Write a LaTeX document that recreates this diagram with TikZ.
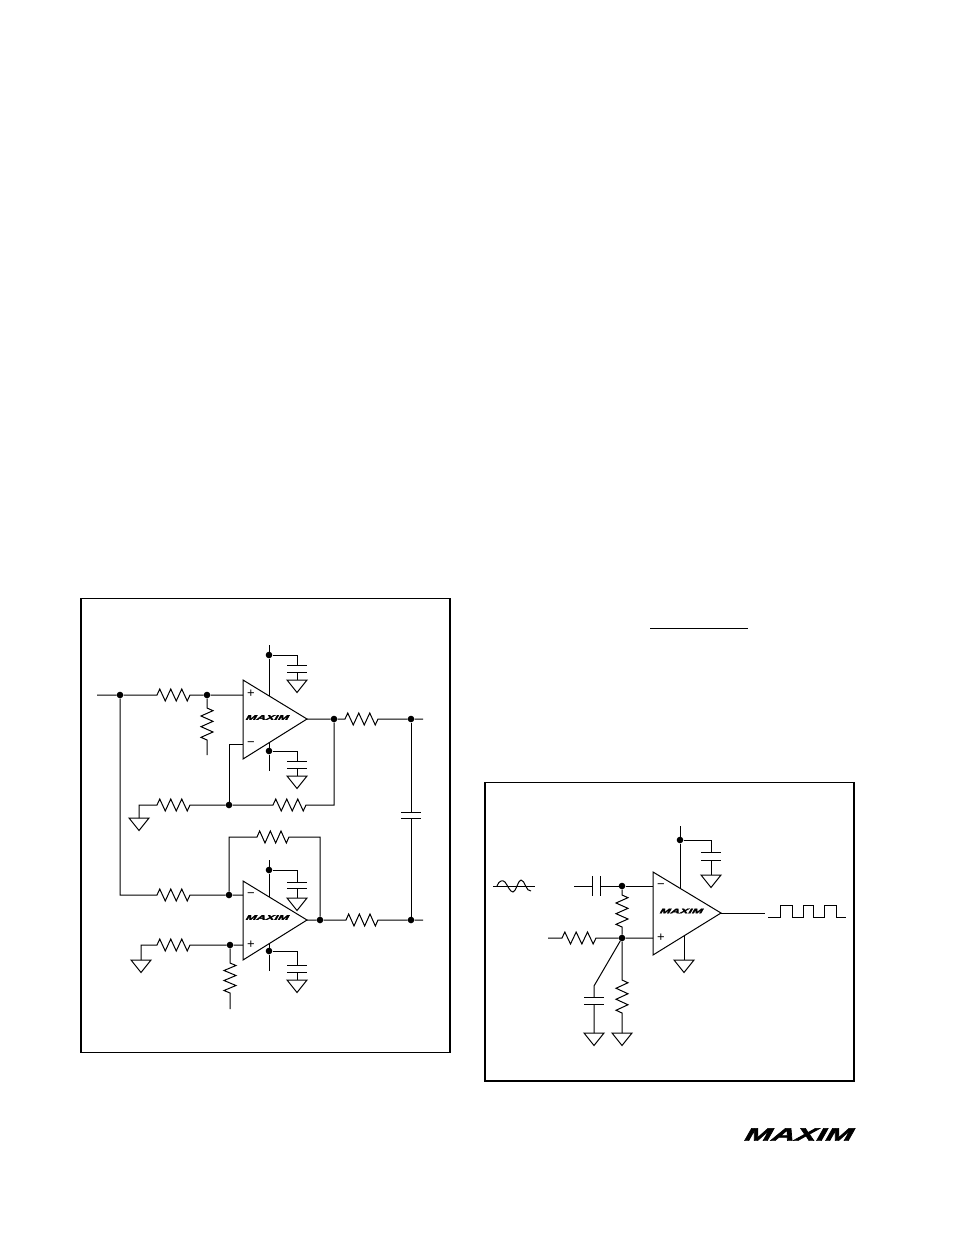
\documentclass[tikz,border=0pt]{standalone}
\usepackage{graphicx}
\usepackage{fontspec}
\setmainfont{Liberation Sans}
\newfontfamily\logofont[BoldFont=*,ItalicFont=*,FakeBold=2.2,FakeSlant=0.12]{Liberation Sans Bold Italic}
\usetikzlibrary{calc}
\tikzset{
  x=1pt,y=-1pt,
  wire/.style={line width=1pt,line join=miter},
  frame/.style={line width=1.8pt},
  dot/.style={circle,fill=black,draw=none,inner sep=0pt,minimum size=6.6pt},
  sign/.style={inner sep=0pt,font=\fontsize{13}{13}\selectfont},
  logosmall/.style={inner sep=0pt,font=\fontsize{7}{7}\logofont},
  logobig/.style={inner sep=0pt,font=\fontsize{18}{18}\logofont},
  res/.style={to path={
    -- ($(\tikztostart)!0.0833!(\tikztotarget)!6pt!90:(\tikztotarget)$)
    -- ($(\tikztostart)!0.25!(\tikztotarget)!6pt!-90:(\tikztotarget)$)
    -- ($(\tikztostart)!0.4167!(\tikztotarget)!6pt!90:(\tikztotarget)$)
    -- ($(\tikztostart)!0.5833!(\tikztotarget)!6pt!-90:(\tikztotarget)$)
    -- ($(\tikztostart)!0.75!(\tikztotarget)!6pt!90:(\tikztotarget)$)
    -- ($(\tikztostart)!0.9167!(\tikztotarget)!6pt!-90:(\tikztotarget)$)
    -- (\tikztotarget)}},
  gnd/.pic={\draw[wire] (-10,0) -- (10,0) -- (0,12.5) -- cycle;},
  hplate/.pic={\draw[wire] (-10,0) -- (10,0);},
  vplate/.pic={\draw[wire] (0,-10) -- (0,10);},
}
\begin{document}
\begin{tikzpicture}
\useasboundingbox (0,0) rectangle (954,1235);
\fill[white] (0,0) rectangle (954,1235);

% frames and rule
\draw[frame] (81,598.5) rectangle (450,1052.5);
\draw[frame] (485,782.5) rectangle (854,1081);
\coordinate (ruleL) at (650,628);
\coordinate (ruleR) at (748,628);
\draw[line width=1pt] (ruleL) -- (ruleR);

% ---------- left circuit, upper amplifier ----------
\coordinate (A1a) at (243,680);
\coordinate (A1b) at (243,759);
\coordinate (A1c) at (307,719);
\draw[wire] (A1a) -- (A1c) -- (A1b) -- cycle;
\node[sign] (A1plus) at (251,694) {+};
\node[sign] (A1minus) at (251,744) {−};
\node[logosmall] (A1logo) at (267,717.5) {\scalebox{1.84}[1]{MAXIM}};

\coordinate (inL) at (97,695);
\node[dot] (j1) at (120,695) {};
\coordinate (r1a) at (157,695);
\coordinate (r1b) at (190,695);
\node[dot] (j2) at (207,695) {};
\coordinate (A1p) at (243,695);
\draw[wire] (inL) -- (j1) -- (r1a) to[res] (r1b) -- (j2) -- (A1p);
\coordinate (r2a) at (207,708);
\coordinate (r2b) at (207,740);
\coordinate (r2e) at (207,755);
\draw[wire] (j2) -- (r2a) to[res] (r2b) -- (r2e);

% supply upper
\coordinate (s1t) at (269,645);
\node[dot] (j3) at (269,655) {};
\coordinate (s1e) at (269,695.8);
\draw[wire] (s1t) -- (j3) -- (s1e);
\coordinate (c1c) at (297,655);
\coordinate (c1a) at (297,665);
\coordinate (c1b) at (297,672);
\coordinate (g1) at (297,680);
\draw[wire] (j3) -- (c1c) -- (c1a) (c1b) -- (g1);
\pic at (c1a) {hplate}; \pic at (c1b) {hplate}; \pic at (g1) {gnd};
% supply lower
\coordinate (s2t) at (269,742.7);
\node[dot] (j4) at (269,751) {};
\coordinate (s2e) at (269,771);
\draw[wire] (s2t) -- (j4) -- (s2e);
\coordinate (c2c) at (297,751);
\coordinate (c2a) at (297,761);
\coordinate (c2b) at (297,768);
\coordinate (g2) at (297,776);
\draw[wire] (j4) -- (c2c) -- (c2a) (c2b) -- (g2);
\pic at (c2a) {hplate}; \pic at (c2b) {hplate}; \pic at (g2) {gnd};

% output upper
\node[dot] (j5) at (334,719) {};
\coordinate (r3a) at (345,719);
\coordinate (r3b) at (378,719);
\node[dot] (j6) at (411,719) {};
\coordinate (outU) at (423,719);
\draw[wire] (A1c) -- (j5) -- (r3a) to[res] (r3b) -- (j6) -- (outU);

% feedback upper
\coordinate (A1m) at (243,744);
\coordinate (fbc) at (229,744);
\node[dot] (j7) at (229,805) {};
\draw[wire] (A1m) -- (fbc) -- (j7);
\coordinate (g3c) at (139,805);
\coordinate (g3) at (139,818);
\coordinate (r4a) at (157,805);
\coordinate (r4b) at (190,805);
\coordinate (r5a) at (273,805);
\coordinate (r5b) at (306,805);
\coordinate (fbr) at (334,805);
\draw[wire] (g3) -- (g3c) -- (r4a) to[res] (r4b) -- (j7) -- (r5a) to[res] (r5b) -- (fbr) -- (j5);
\pic at (g3) {gnd};

% bridge capacitor
\coordinate (c3a) at (411,812);
\coordinate (c3b) at (411,818);
\node[dot] (j8) at (411,920) {};
\draw[wire] (j6) -- (c3a) (c3b) -- (j8);
\pic at (c3a) {hplate}; \pic at (c3b) {hplate};

% ---------- left circuit, lower amplifier ----------
\coordinate (A2a) at (243,881);
\coordinate (A2b) at (243,960);
\coordinate (A2c) at (307,920);
\draw[wire] (A2a) -- (A2c) -- (A2b) -- cycle;
\node[sign] (A2minus) at (251,895) {−};
\node[sign] (A2plus) at (251,945) {+};
\node[logosmall] (A2logo) at (267,917.5) {\scalebox{1.84}[1]{MAXIM}};

\coordinate (inC) at (120,895);
\coordinate (r6a) at (157,895);
\coordinate (r6b) at (190,895);
\node[dot] (j9) at (229,895) {};
\coordinate (A2m) at (243,895);
\draw[wire] (j1) -- (inC) -- (r6a) to[res] (r6b) -- (j9) -- (A2m);

\coordinate (fb2a) at (229,837);
\coordinate (r7a) at (257,837);
\coordinate (r7b) at (289,837);
\coordinate (fb2b) at (320,837);
\node[dot] (j10) at (320,920) {};
\draw[wire] (j9) -- (fb2a) -- (r7a) to[res] (r7b) -- (fb2b) -- (j10);

\coordinate (r8a) at (346,920);
\coordinate (r8b) at (378,920);
\coordinate (outL) at (423,920);
\draw[wire] (A2c) -- (j10) -- (r8a) to[res] (r8b) -- (j8) -- (outL);

\coordinate (g4) at (141,960);
\coordinate (g4c) at (141,945);
\coordinate (r9a) at (157,945);
\coordinate (r9b) at (190,945);
\node[dot] (j11) at (230,945) {};
\coordinate (A2p) at (243,945);
\draw[wire] (g4) -- (g4c) -- (r9a) to[res] (r9b) -- (j11) -- (A2p);
\pic at (g4) {gnd};
\coordinate (r10a) at (230,963);
\coordinate (r10b) at (230,993);
\coordinate (r10e) at (230,1009);
\draw[wire] (j11) -- (r10a) to[res] (r10b) -- (r10e);

\coordinate (s3t) at (269,860);
\node[dot] (j12) at (269,870) {};
\coordinate (s3e) at (269,896.8);
\draw[wire] (s3t) -- (j12) -- (s3e);
\coordinate (c4c) at (297,870);
\coordinate (c4a) at (297,882);
\coordinate (c4b) at (297,888);
\coordinate (g5) at (297,898);
\draw[wire] (j12) -- (c4c) -- (c4a) (c4b) -- (g5);
\pic at (c4a) {hplate}; \pic at (c4b) {hplate}; \pic at (g5) {gnd};

\coordinate (s4t) at (269,944);
\node[dot] (j13) at (269,951) {};
\coordinate (s4e) at (269,971);
\draw[wire] (s4t) -- (j13) -- (s4e);
\coordinate (c5c) at (297,951);
\coordinate (c5a) at (297,965);
\coordinate (c5b) at (297,972);
\coordinate (g6) at (297,980);
\draw[wire] (j13) -- (c5c) -- (c5a) (c5b) -- (g6);
\pic at (c5a) {hplate}; \pic at (c5b) {hplate}; \pic at (g6) {gnd};

% ---------- right circuit ----------
\coordinate (A3a) at (653,872);
\coordinate (A3b) at (653,955);
\coordinate (A3c) at (721,913);
\draw[wire] (A3a) -- (A3c) -- (A3b) -- cycle;
\node[sign] (A3minus) at (661,886) {−};
\node[sign] (A3plus) at (661,938) {+};
\node[logosmall] (A3logo) at (681,911) {\scalebox{1.84}[1]{MAXIM}};

\coordinate (s5t) at (680,826);
\node[dot] (j14) at (680,840) {};
\coordinate (s5e) at (680,888.3);
\draw[wire] (s5t) -- (j14) -- (s5e);
\coordinate (c6c) at (711,840);
\coordinate (c6a) at (711,852);
\coordinate (c6b) at (711,860);
\coordinate (g7) at (711,875);
\draw[wire] (j14) -- (c6c) -- (c6a) (c6b) -- (g7);
\pic at (c6a) {hplate}; \pic at (c6b) {hplate}; \pic at (g7) {gnd};

\coordinate (inS) at (574,886);
\coordinate (c7a) at (592,886);
\coordinate (c7b) at (600,886);
\node[dot] (j15) at (622,886) {};
\coordinate (A3m) at (653,886);
\draw[wire] (inS) -- (c7a) (c7b) -- (j15) -- (A3m);
\pic at (c7a) {vplate}; \pic at (c7b) {vplate};

\coordinate (r11a) at (622,895);
\coordinate (r11b) at (622,927);
\node[dot] (j16) at (622,938) {};
\draw[wire] (j15) -- (r11a) to[res] (r11b) -- (j16);

\coordinate (inR) at (548,938);
\coordinate (r12a) at (562,938);
\coordinate (r12b) at (596,938);
\coordinate (A3p) at (653,938);
\draw[wire] (inR) -- (r12a) to[res] (r12b) -- (j16) -- (A3p);

\coordinate (sl) at (594,986);
\coordinate (c8a) at (594,997);
\coordinate (c8b) at (594,1004);
\coordinate (g8) at (594,1033);
\draw[wire] (j16) -- (sl) -- (c8a) (c8b) -- (g8);
\pic at (c8a) {hplate}; \pic at (c8b) {hplate}; \pic at (g8) {gnd};

\coordinate (r13a) at (622,980);
\coordinate (r13b) at (622,1013);
\coordinate (g9) at (622,1033);
\draw[wire] (j16) -- (r13a) to[res] (r13b) -- (g9);
\pic at (g9) {gnd};

\coordinate (s6t) at (684,935.8);
\coordinate (g10) at (684,960);
\draw[wire] (s6t) -- (g10);
\pic at (g10) {gnd};

% output and square wave
\coordinate (out3) at (765,913);
\draw[wire] (A3c) -- (out3);
\coordinate (sq) at (768,917);
\draw[wire] (sq) -- ++(12,0) -- ++(0,-12) -- ++(12,0) -- ++(0,12) -- ++(11,0) -- ++(0,-12) -- ++(10,0) -- ++(0,12) -- ++(11,0) -- ++(0,-12) -- ++(12,0) -- ++(0,12) -- ++(10,0);

% sine wave
\coordinate (sinL) at (493,886);
\coordinate (sinR) at (535,886);
\coordinate (sinS) at (497,886);
\draw[wire] (sinL) -- (sinR);
\draw[wire] (sinS) .. controls (499,880) and (503,880) .. (505,882)
  .. controls (508,886) and (510,892) .. (513,892)
  .. controls (516,892) and (518,880) .. (521,880)
  .. controls (525,880) and (526,892) .. (531,891);

% logo
\node[logobig] (logo) at (798,1134.5) {\scalebox{1.8}[1]{MAXIM}};
\end{tikzpicture}
\end{document}
